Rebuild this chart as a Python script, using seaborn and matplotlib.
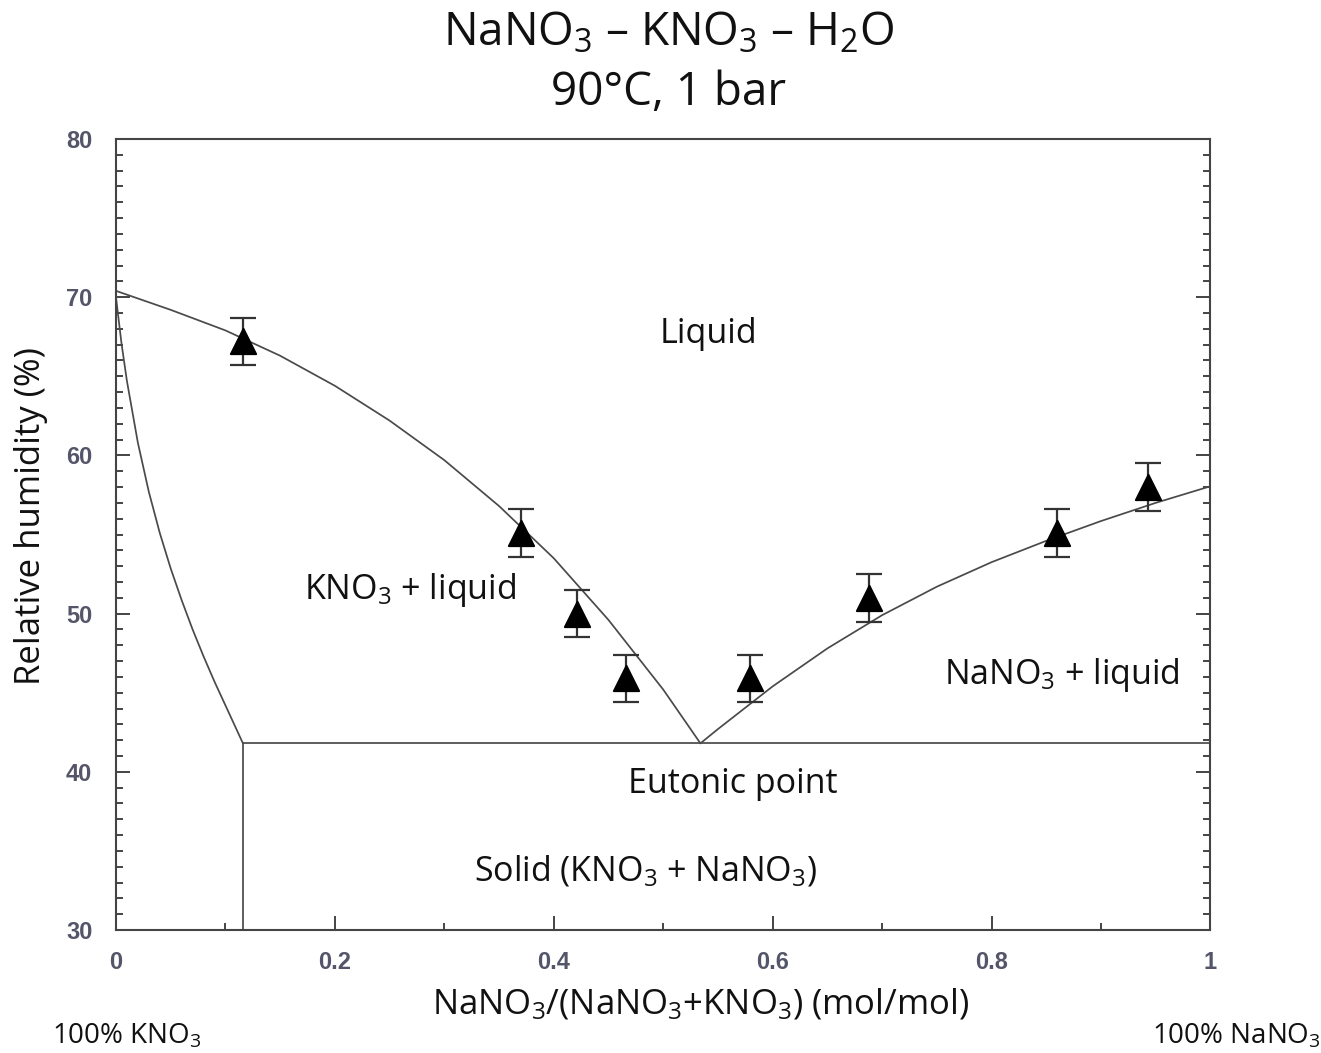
import matplotlib
matplotlib.use("Agg")
import matplotlib.pyplot as plt
from matplotlib.ticker import MultipleLocator
import pandas as pd
import seaborn as sns

# Measured deliquescence humidities (mole fraction NaNO3, RH %, uncertainty)
x_meas = [0.116, 0.370, 0.421, 0.466, 0.579, 0.688, 0.860, 0.943]
rh_meas = [67.2, 55.1, 50.0, 45.9, 45.9, 51.0, 55.1, 58.0]
rh_err = [1.5, 1.5, 1.5, 1.5, 1.5, 1.5, 1.5, 1.5]

# Model curves: KNO3 liquidus branch
x_kno3_branch = [0.0, 0.05, 0.1, 0.15, 0.2, 0.25, 0.3, 0.35, 0.4, 0.45, 0.5, 0.534]
rh_kno3_branch = [70.4, 69.2, 67.9, 66.3, 64.4, 62.2, 59.7, 56.8, 53.5, 49.6, 45.2, 41.8]

# NaNO3 liquidus branch
x_nano3_branch = [0.534, 0.55, 0.6, 0.65, 0.7, 0.75, 0.8, 0.85, 0.9, 0.95, 1.0]
rh_nano3_branch = [41.8, 42.7, 45.4, 47.8, 49.9, 51.7, 53.25, 54.6, 55.85, 57.0, 58.05]

# Solid-phase boundary on the KNO3-rich side
x_solid_branch = [0.0, 0.005, 0.01, 0.02, 0.03, 0.04, 0.05, 0.06, 0.07, 0.08, 0.09, 0.1, 0.11, 0.116]
rh_solid_branch = [70.0, 67.1, 64.7, 60.8, 57.7, 55.1, 52.85, 50.85, 49.0, 47.3, 45.7, 44.2, 42.7, 41.8]

# Eutonic line and the vertical boundary below it
x_eutonic = [0.116, 1.0]
rh_eutonic = [41.8, 41.8]
x_vertical = [0.116, 0.116]
rh_vertical = [30.0, 41.8]

sns.set_theme(style="ticks")
plt.rcParams["font.family"] = ["Open Sans", "DejaVu Sans"]
plt.rcParams["mathtext.fontset"] = "custom"
plt.rcParams["mathtext.rm"] = "Open Sans"
plt.rcParams["mathtext.default"] = "regular"

fig = plt.figure(figsize=(13.21, 10.53), dpi=100)
ax = fig.add_axes([0.0878, 0.1168, 0.8285, 0.7512])

line_color = "#4a4a4a"
curves = [
    (x_kno3_branch, rh_kno3_branch),
    (x_nano3_branch, rh_nano3_branch),
    (x_solid_branch, rh_solid_branch),
    (x_eutonic, rh_eutonic),
    (x_vertical, rh_vertical),
]
for xs, ys in curves:
    df = pd.DataFrame({"x": xs, "rh": ys})
    sns.lineplot(data=df, x="x", y="rh", sort=False, color=line_color,
                 linewidth=1.25, ax=ax, estimator=None)

meas = pd.DataFrame({"x": x_meas, "rh": rh_meas, "err": rh_err})
ax.errorbar(meas["x"], meas["rh"], yerr=meas["err"], fmt="none",
            ecolor="#333333", elinewidth=1.6, capsize=9.5, capthick=1.6, zorder=3)
sns.scatterplot(data=meas, x="x", y="rh", marker="^", s=330, color="black",
                edgecolor="black", ax=ax, zorder=4)

ax.set_xlim(0, 1)
ax.set_ylim(30, 80)
ax.xaxis.set_minor_locator(MultipleLocator(0.1))
ax.yaxis.set_major_locator(MultipleLocator(10))
ax.yaxis.set_minor_locator(MultipleLocator(1))
ax.set_xticks([0, 0.2, 0.4, 0.6, 0.8, 1.0])
ax.set_xticklabels(["0", "0.2", "0.4", "0.6", "0.8", "1"])
ax.tick_params(axis="both", which="major", direction="in", length=10, width=1.4,
               color="#444444", labelcolor="#55556a")
ax.tick_params(axis="both", which="minor", direction="in", length=5, width=1.4,
               color="#444444")
ax.tick_params(axis="y", which="both", right=True)
ax.tick_params(axis="y", which="major", pad=17, labelsize=17)
ax.tick_params(axis="x", which="major", pad=15, labelsize=17)
for lab in ax.get_yticklabels():
    lab.set_family(["Liberation Sans", "DejaVu Sans"])
    lab.set_fontweight("bold")
for lab in ax.get_xticklabels():
    lab.set_family(["Liberation Sans Narrow", "Liberation Sans", "DejaVu Sans"])
    lab.set_fontweight("bold")
for sp in ax.spines.values():
    sp.set_color("#444444")
    sp.set_linewidth(1.5)
    sp.set_visible(True)

ax.set_xlabel(r"NaNO$_3$/(NaNO$_3$+KNO$_3$) (mol/mol)", fontsize=25, color="#111111")
ax.xaxis.set_label_coords(0.534, -0.072)
ax.set_ylabel("Relative humidity (%)", fontsize=25, color="#111111")
ax.yaxis.set_label_coords(-0.062, 0.523)

txt = dict(color="#111111", ha="center", va="center")
ax.text(0.541, 67.7, "Liquid", fontsize=24.5, **txt)
ax.text(0.269, 51.5, r"KNO$_3$ + liquid", fontsize=24.5, **txt)
ax.text(0.864, 46.1, r"NaNO$_3$ + liquid", fontsize=24.5, **txt)
ax.text(0.564, 39.25, "Eutonic point", fontsize=24.5, **txt)
ax.text(0.484, 33.7, r"Solid (KNO$_3$ + NaNO$_3$)", fontsize=24.5, **txt)

fig.text(0.506, 0.968, r"NaNO$_3$ – KNO$_3$ – H$_2$O", fontsize=33, ha="center",
         va="center", color="#111111")
fig.text(0.506, 0.912, "90°C, 1 bar", fontsize=33, ha="center", va="center",
         color="#111111")
fig.text(0.039, 0.016, r"100% KNO$_3$", fontsize=20, ha="left", va="center",
         color="#111111")
fig.text(1.0, 0.016, r"100% NaNO$_3$", fontsize=20, ha="right", va="center",
         color="#111111")

fig.savefig("out.png", dpi=100, facecolor="white")
